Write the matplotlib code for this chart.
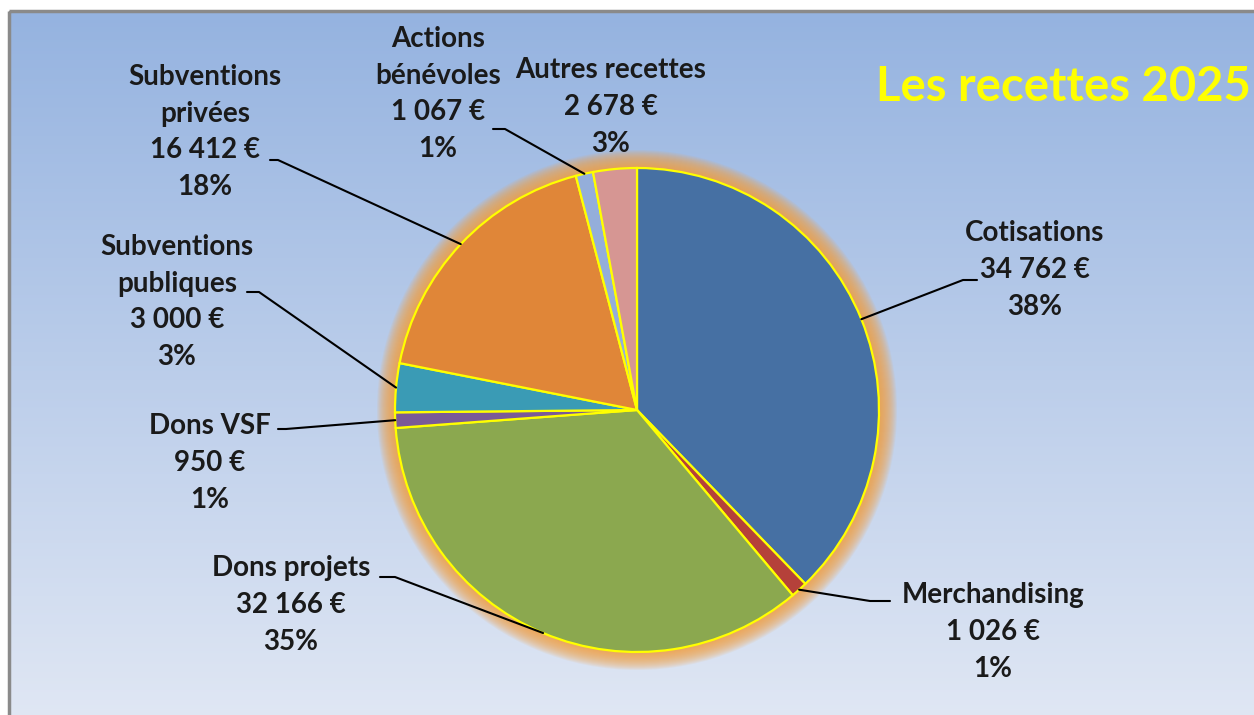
import numpy as np
import matplotlib.pyplot as plt
from matplotlib.patches import Circle, Rectangle

plt.rcParams['font.family'] = ['Lato', 'DejaVu Sans']

# data
categories = ["Cotisations", "Merchandising", "Dons projets", "Dons VSF",
              "Subventions\npubliques", "Subventions\nprivées",
              "Actions\nbénévoles", "Autres recettes"]
values = [34762, 1026, 32166, 950, 3000, 16412, 1067, 2678]
colors = ["#4670A3", "#B5413A", "#8BA84F", "#7A5A97",
          "#3A9BB5", "#E08638", "#94AEDA", "#D69693"]

# layout (pixel coords, y down)
W, H = 1254, 715
cx, cy, R = 637, 410, 242
label_pos = [(1035, 270), (993, 632), (291, 605), (210, 463),
             (177, 302), (205, 132), (438, 94), (611, 107)]
# leader start points (x, y, horizontal stub dx); None = no leader
leader = [(977, 280, -14), (890, 601, -20), (380, 577, 15), (278, 429, 8),
          (247, 292, 12), (270, 160, 8), (493, 129, 12), None]


def fmt_eur(v):
    return f"{v:,}".replace(",", " ") + " €"


fig = plt.figure(figsize=(W / 100, H / 100), dpi=100)
fig.patch.set_facecolor("white")
ax = fig.add_axes([0, 0, 1, 1])

# gradient background inside frame
top = np.array([149, 179, 224]) / 255
bot = np.array([224, 231, 244]) / 255
t = np.linspace(0, 1, 256)[:, None]
grad = (top * (1 - t) + bot * t)[:, None, :]
ax.imshow(grad, extent=(10, W + 5, H + 5, 12), aspect="auto", zorder=0)
ax.add_patch(Rectangle((9, 11), W, H, fill=False, edgecolor="#8a8a8a",
                       lw=2.5, zorder=1))

# glow around the pie
for k in range(18, 0, -1):
    ax.add_patch(Circle((cx, cy), R + k, facecolor="#F5A040",
                        edgecolor="none", alpha=0.09, zorder=2))

wedges, _ = ax.pie(values, colors=colors, startangle=-90, counterclock=True,
                   radius=R, center=(cx, cy), frame=True,
                   wedgeprops=dict(edgecolor="#FFFF00", linewidth=1.6))
for w in wedges:
    w.set_zorder(3)
ax.set_xlim(0, W)
ax.set_ylim(H, 0)
ax.set_aspect("equal")
ax.axis("off")

total = sum(values)
for i, w in enumerate(wedges):
    pct = round(values[i] / total * 100)
    txt = f"{categories[i]}\n{fmt_eur(values[i])}\n{pct}%"
    lx, ly = label_pos[i]
    ax.text(lx, ly, txt, ha="center", va="center", fontsize=20,
            fontweight="bold", color="#1a1a1a", linespacing=1.52, zorder=5)
    if leader[i] is not None:
        ang = np.deg2rad((w.theta1 + w.theta2) / 2)
        ex = cx + R * np.cos(ang)
        ey = cy + R * np.sin(ang)
        sx, sy, d = leader[i]
        ax.plot([sx, sx + d, ex], [sy, sy, ey], color="black", lw=1.5,
                solid_capstyle="round", zorder=6)

ax.text(876, 101, "Les recettes 2025", ha="left", va="baseline",
        fontsize=34, fontweight="bold", color="#FFFF00", zorder=6)

fig.savefig("out.png", dpi=100)
